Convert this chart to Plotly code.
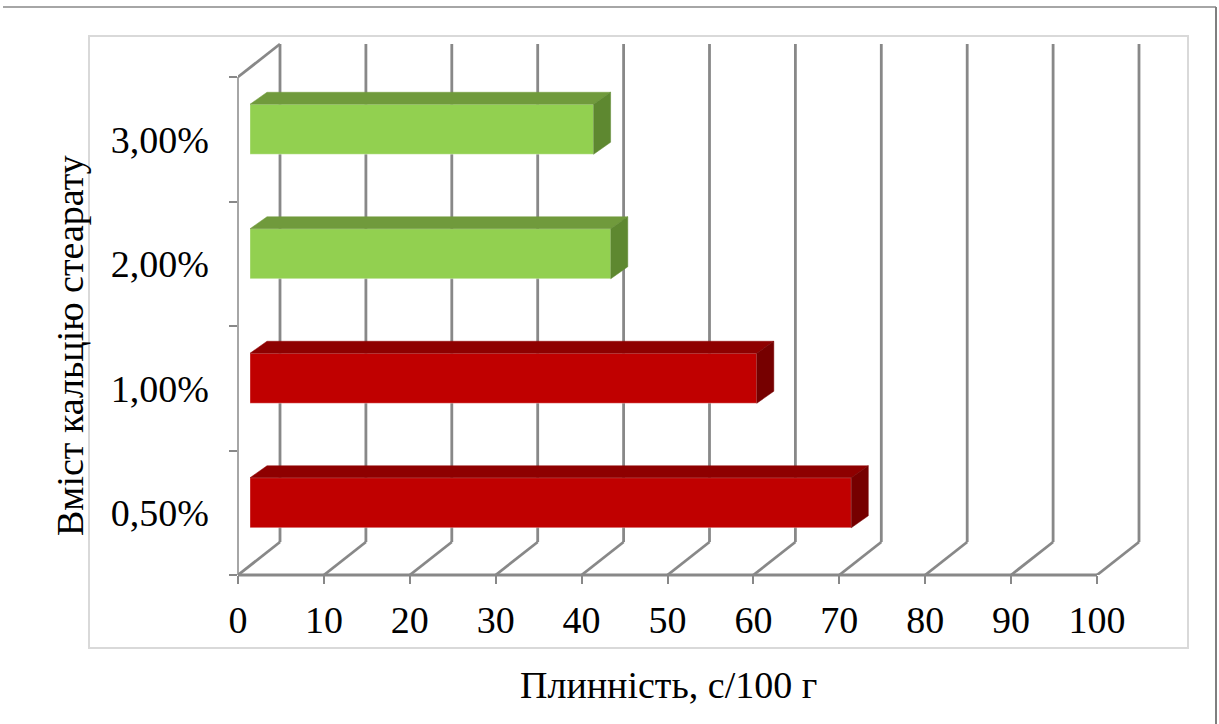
import plotly.graph_objects as go

# ---- data -------------------------------------------------------------
categories = ["0,50%", "1,00%", "2,00%", "3,00%"]
flow_values = [70, 59, 42, 40]
x_tick_values = list(range(0, 101, 10))

front_colors = ["#C00000", "#C00000", "#92D050", "#92D050"]
top_colors = ["#8E0000", "#8E0000", "#709A3C", "#709A3C"]
side_colors = ["#760000", "#760000", "#5E8830", "#5E8830"]

x_title = "Плинність, с/100 г"
y_title = "Вміст кальцію стеарату"

# ---- page / 3-D box geometry (pixels) --------------------------------
W, H = 1219, 724
X0_PX, X100_PX = 238, 1097      # front floor edge: value 0 and value 100
YB_PX, YT_PX = 575, 77          # front wall: bottom and top
WALL_DX, WALL_DY = 42, 33       # offset of the back wall
BAR_DX, BAR_DY = 12, 10         # offset of the bar front faces
BAR_DEPTH_DX, BAR_DEPTH_DY = 17, 12
BAR_THICK_PX = 50
PAD = 6
GRID = "#888888"
FONT = "Liberation Serif, Times New Roman, serif"
FS = 38

n = len(categories)
kx = (X100_PX - X0_PX) / 100.0          # px per value unit
ky = (YB_PX - YT_PX) / n                # px per category
wall_dx, wall_dy = WALL_DX / kx, WALL_DY / ky
bar_dx, bar_dy = BAR_DX / kx, BAR_DY / ky
depth_dx, depth_dy = BAR_DEPTH_DX / kx, BAR_DEPTH_DY / ky
thick = BAR_THICK_PX / ky

y_low = -0.5
y_front_top = y_low + n
x_max = x_tick_values[-1]

plot_l = X0_PX
plot_r = X100_PX + WALL_DX + PAD
plot_t = YT_PX - WALL_DY - PAD
plot_b = YB_PX
plot_w = plot_r - plot_l
plot_h = plot_b - plot_t

x_range = [0, x_max + wall_dx + PAD / kx]
y_range = [y_low, y_front_top + wall_dy + PAD / ky]


def px_to_paper(px, py):
    return (px - plot_l) / plot_w, (plot_b - py) / plot_h


fig = go.Figure()

# front faces of the bars
bar_y = [i + bar_dy for i in range(n)]
fig.add_trace(go.Bar(
    orientation="h",
    y=bar_y,
    x=flow_values,
    base=bar_dx,
    width=thick,
    marker=dict(color=front_colors, line=dict(color="rgba(255,255,255,0.35)", width=1)),
    hoverinfo="skip",
    showlegend=False,
))

# top and side faces that give the bars their depth
for i, v in enumerate(flow_values):
    yc = bar_y[i]
    y0, y1 = yc - thick / 2, yc + thick / 2
    xs, xe = bar_dx, bar_dx + v
    fig.add_trace(go.Scatter(
        x=[xs, xe, xe + depth_dx, xs + depth_dx, xs],
        y=[y1, y1, y1 + depth_dy, y1 + depth_dy, y1],
        mode="lines", fill="toself", fillcolor=top_colors[i],
        line=dict(color=top_colors[i], width=0.5),
        hoverinfo="skip", showlegend=False,
    ))
    fig.add_trace(go.Scatter(
        x=[xe, xe + depth_dx, xe + depth_dx, xe, xe],
        y=[y0, y0 + depth_dy, y1 + depth_dy, y1, y0],
        mode="lines", fill="toself", fillcolor=side_colors[i],
        line=dict(color=side_colors[i], width=0.5),
        hoverinfo="skip", showlegend=False,
    ))

shapes = []
# back-wall gridlines and floor diagonals
for v in x_tick_values:
    shapes.append(dict(type="line", xref="x", yref="y", layer="below",
                       x0=v + wall_dx, x1=v + wall_dx,
                       y0=y_low + wall_dy, y1=y_front_top + wall_dy,
                       line=dict(color=GRID, width=2.8)))
    shapes.append(dict(type="line", xref="x", yref="y", layer="below",
                       x0=v, x1=v + wall_dx, y0=y_low, y1=y_low + wall_dy,
                       line=dict(color=GRID, width=2.8)))
# left wall: top diagonal and front edge
shapes.append(dict(type="line", xref="x", yref="y", layer="below",
                   x0=0, x1=wall_dx, y0=y_front_top, y1=y_front_top + wall_dy,
                   line=dict(color=GRID, width=2.8)))
shapes.append(dict(type="line", xref="paper", yref="y", layer="below",
                   x0=0, x1=0, y0=y_low, y1=y_front_top,
                   line=dict(color=GRID, width=1.5)))
# front floor edge
shapes.append(dict(type="line", xref="x", yref="paper", layer="below",
                   x0=0, x1=x_max, y0=0, y1=0,
                   line=dict(color=GRID, width=2.8)))

# chart-area frame
fx0, fy0 = px_to_paper(89, 648)
fx1, fy1 = px_to_paper(1188, 36)
shapes.append(dict(type="rect", xref="paper", yref="paper", layer="below",
                   x0=fx0, y0=fy0, x1=fx1, y1=fy1,
                   line=dict(color="#D9D9D9", width=2)))
# outer frame (top and right edges)
ox0, oy0 = px_to_paper(3, 7)
ox1, oy1 = px_to_paper(1216, 7)
shapes.append(dict(type="line", xref="paper", yref="paper",
                   x0=ox0, y0=oy0, x1=ox1, y1=oy1,
                   line=dict(color="#A6A6A6", width=2)))
rx0, ry0 = px_to_paper(1216, 7)
rx1, ry1 = px_to_paper(1216, H)
shapes.append(dict(type="line", xref="paper", yref="paper",
                   x0=rx0, y0=ry0, x1=rx1, y1=ry1,
                   line=dict(color="#7F7F7F", width=2)))

tx, ty = px_to_paper(668, 685)
vx, vy = px_to_paper(70, 346)
annotations = [
    dict(text=x_title, xref="paper", yref="paper", x=tx, y=ty,
         xanchor="center", yanchor="middle", showarrow=False,
         font=dict(family=FONT, size=FS, color="black")),
    dict(text=y_title, xref="paper", yref="paper", x=vx, y=vy, textangle=-90,
         xanchor="center", yanchor="middle", showarrow=False,
         font=dict(family=FONT, size=FS, color="black")),
]

fig.update_layout(
    width=W, height=H,
    margin=dict(l=plot_l, r=W - plot_r, t=plot_t, b=H - plot_b, autoexpand=False),
    paper_bgcolor="white", plot_bgcolor="rgba(0,0,0,0)",
    font=dict(family=FONT, size=FS, color="black"),
    showlegend=False,
    shapes=shapes,
    annotations=annotations,
    xaxis=dict(range=x_range, tickmode="array", tickvals=x_tick_values,
               ticks="outside", ticklen=8, tickwidth=1.5, tickcolor=GRID,
               showgrid=False, zeroline=False, showline=False,
               ticklabelstandoff=3, fixedrange=True),
    yaxis=dict(range=y_range, tickmode="array", tickvals=list(range(n)),
               ticktext=categories, ticks="",
               minor=dict(tickmode="array",
                          tickvals=[y_low + k for k in range(n + 1)],
                          ticks="outside", ticklen=8, tickwidth=1.5,
                          tickcolor=GRID, showgrid=False),
               showgrid=False, zeroline=False, showline=False,
               ticklabelstandoff=28, fixedrange=True),
)

fig.write_html("out.html")
